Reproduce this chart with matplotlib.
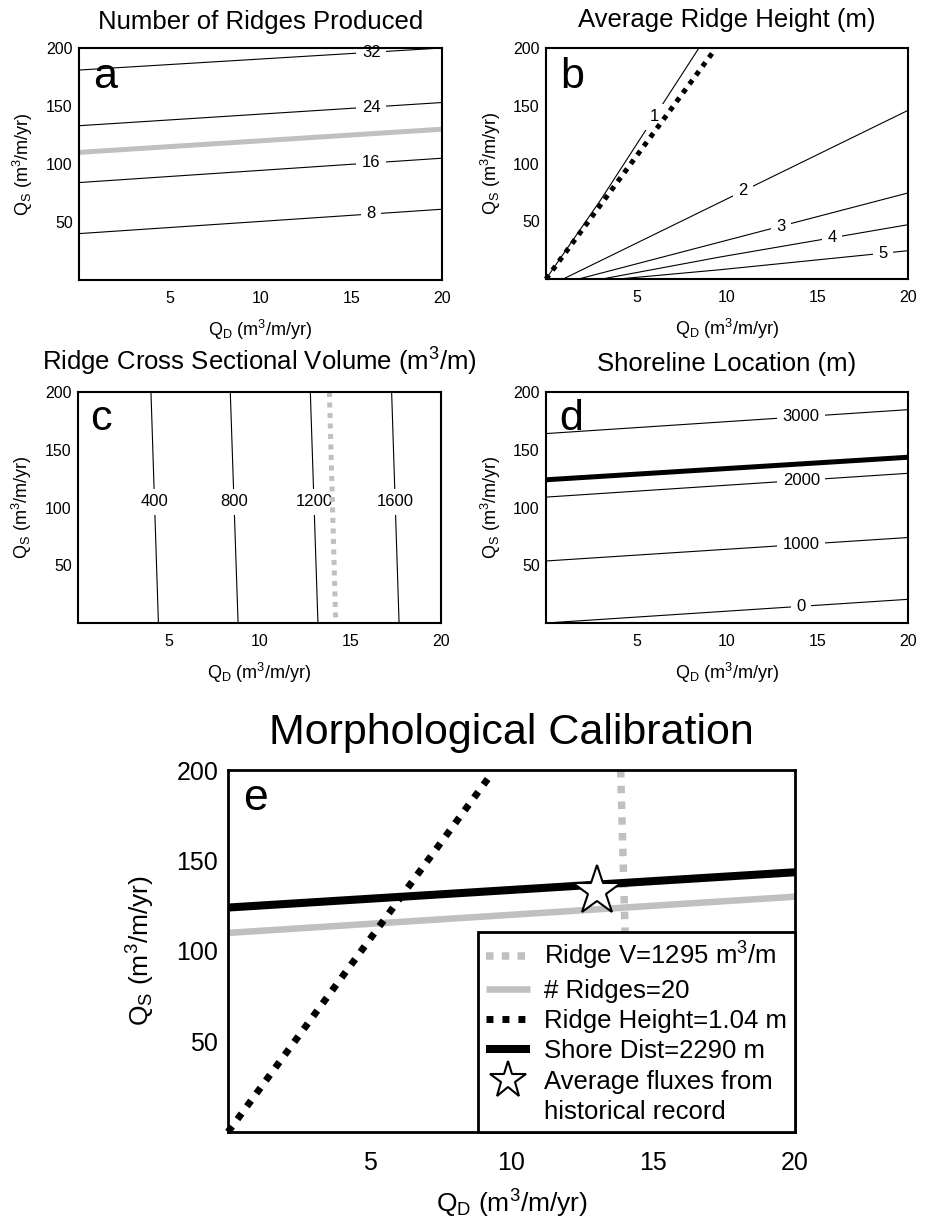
import numpy as np
import matplotlib
matplotlib.use("Agg")
import matplotlib.pyplot as plt
from matplotlib.lines import Line2D

plt.rcParams['font.family'] = ['Liberation Sans', 'DejaVu Sans']
plt.rcParams['mathtext.fontset'] = 'custom'
plt.rcParams['mathtext.rm'] = 'Liberation Sans'
plt.rcParams['mathtext.it'] = 'Liberation Sans:italic'
plt.rcParams['mathtext.bf'] = 'Liberation Sans:bold'

# ---------------- data ----------------
qd_span = [0, 20]

# (a) number of ridges: contours given by QS at QD=0 and QD=20
ridge_levels = ["8", "16", "24", "32"]
ridge_qs_left = [40, 84, 133, 181]
ridge_qs_right = [61, 105, 153, 200]
ridge_label_qd = 16.1
ridge_target_qs = [110, 130]          # 20 ridges

# (b) average ridge height
height_levels = ["1", "2", "3", "4", "5"]
height_qd = [[0, 3, 8.45], [0.95, 20], [1.8, 20], [3.1, 9.6, 20], [4.0, 9.6, 20]]
height_qs = [[0, 68, 200], [0, 146], [0, 74.5], [0, 19, 47], [0, 8, 24.5]]
height_label_qd = [6.0, 10.9, 13.0, 15.8, 18.6]
height_target_qd = [0, 9.3]             # 1.04 m
height_target_qs = [0, 198]

# (c) ridge cross-sectional volume: contours given by QD at QS=200 and QS=0
volume_levels = ["400", "800", "1200", "1600"]
volume_qd_top = [4.02, 8.39, 12.8, 17.28]
volume_qd_bottom = [4.43, 8.82, 13.22, 17.69]
volume_label_qs = 105
volume_target_qd = [13.85, 14.2]        # 1295 m3/m (top, bottom)
qs_span = [200, 0]

# (d) shoreline location
shore_levels = ["0", "1000", "2000", "3000"]
shore_qs_left = [0, 53.7, 109, 164]
shore_qs_right = [20.5, 74, 129.6, 184.7]
shore_label_qd = 14.1
shore_target_qs = [124, 143.5]          # 2290 m

# (e) historical average fluxes
star_qd = [13.0]
star_qs = [133]

xticks = [5, 10, 15, 20]
yticks = [50, 100, 150, 200]

GRAY = '#c0c0c0'
XLAB = r'Q$_\mathrm{D}$ (m$^3$/m/yr)'
YLAB = r'Q$_\mathrm{S}$ (m$^3$/m/yr)'

fig = plt.figure(figsize=(9.28, 12.24), dpi=100)
W, H = 928, 1224


def add_axes(l, r, t, b):
    return fig.add_axes([l / W, 1 - b / H, (r - l) / W, (b - t) / H])


def setup(ax, tfs, lfs, spw, xpad, ypad, xlab_y, ylab_x):
    ax.set_xlim(0, 20)
    ax.set_ylim(0, 200)
    ax.set_xticks(xticks)
    ax.set_yticks(yticks)
    ax.tick_params(axis='both', length=0, labelsize=tfs)
    ax.tick_params(axis='x', pad=xpad)
    ax.tick_params(axis='y', pad=ypad)
    for s in ax.spines.values():
        s.set_linewidth(spw)
        s.set_color('black')
    ax.set_xlabel(XLAB, fontsize=lfs)
    ax.set_ylabel(YLAB, fontsize=lfs)
    ax.xaxis.set_label_coords(0.5, xlab_y)
    ax.yaxis.set_label_coords(ylab_x, 0.5)


def clabel(ax, x, y, s, fs=12):
    ax.text(x, y, s, fontsize=fs, ha='center', va='center', zorder=2.2,
            bbox=dict(boxstyle='square,pad=0.33', fc='white', ec='none'))


THIN = 0.8
TFS, LFS, TITLE = 11.5, 13, 18.5

# ---------------- (a) ----------------
axa = add_axes(79, 442, 48, 280)
setup(axa, TFS, LFS, 1.5, 8, 4.5, -0.164, -0.12)
for lev, yl, yr in zip(ridge_levels, ridge_qs_left, ridge_qs_right):
    axa.plot(qd_span, [yl, yr], color='black', lw=THIN, zorder=2)
    clabel(axa, ridge_label_qd, np.interp(ridge_label_qd, qd_span, [yl, yr]), lev)
axa.plot(qd_span, ridge_target_qs, color=GRAY, lw=3.6, solid_capstyle='butt', zorder=2.4)
axa.set_title('Number of Ridges Produced', fontsize=TITLE, pad=14)
axa.text(0.04, 0.828, 'a', transform=axa.transAxes, fontsize=31, va='baseline', ha='left')

# ---------------- (b) ----------------
axb = add_axes(546, 908, 48, 279)
setup(axb, TFS, LFS, 1.5, 8, 4.5, -0.164, -0.12)
for lev, xs, ys, lx in zip(height_levels, height_qd, height_qs, height_label_qd):
    axb.plot(xs, ys, color='black', lw=THIN, zorder=2)
    clabel(axb, lx, np.interp(lx, xs, ys), lev)
axb.plot(height_target_qd, height_target_qs, color='black', lw=3.6,
         ls=(0, (1, 1.2)), dash_capstyle='butt', zorder=2.4, clip_on=False)
axb.set_title('Average Ridge Height (m)', fontsize=TITLE, pad=15)
axb.text(0.04, 0.828, 'b', transform=axb.transAxes, fontsize=31, va='baseline', ha='left')

# ---------------- (c) ----------------
axc = add_axes(78, 441, 392, 623)
setup(axc, TFS, LFS, 1.5, 8, 4.5, -0.164, -0.12)
for lev, xt, xb in zip(volume_levels, volume_qd_top, volume_qd_bottom):
    axc.plot([xt, xb], qs_span, color='black', lw=THIN, zorder=2)
    clabel(axc, np.interp(volume_label_qs, qs_span[::-1], [xb, xt]), volume_label_qs, lev)
axc.plot(volume_target_qd, qs_span, color=GRAY, lw=3.6, ls=(0, (1, 1.1)),
         dash_capstyle='butt', zorder=2.4)
axc.set_title(r'Ridge Cross Sectional Volume (m$^3$/m)', fontsize=TITLE, pad=15.5)
axc.text(0.033, 0.836, 'c', transform=axc.transAxes, fontsize=31, va='baseline', ha='left')

# ---------------- (d) ----------------
axd = add_axes(546, 908, 392, 623)
setup(axd, TFS, LFS, 1.5, 8, 4.5, -0.164, -0.12)
for lev, yl, yr in zip(shore_levels, shore_qs_left, shore_qs_right):
    axd.plot(qd_span, [yl, yr], color='black', lw=THIN, zorder=2)
    clabel(axd, shore_label_qd, np.interp(shore_label_qd, qd_span, [yl, yr]), lev)
axd.plot(qd_span, shore_target_qs, color='black', lw=3.6, solid_capstyle='butt', zorder=2.4)
axd.set_title('Shoreline Location (m)', fontsize=TITLE, pad=15)
axd.text(0.036, 0.836, 'd', transform=axd.transAxes, fontsize=31, va='baseline', ha='left')

# ---------------- (e) ----------------
axe = add_axes(228, 795, 770, 1132)
setup(axe, 18, 19, 2.0, 14, 7, -0.155, -0.125)
lv, = axe.plot(volume_target_qd, qs_span, color=GRAY, lw=5.4, ls=(0, (1, 1.1)),
               dash_capstyle='butt', zorder=2.3, label=r'Ridge V=1295 m$^3$/m')
lr, = axe.plot(qd_span, ridge_target_qs, color=GRAY, lw=4.7, solid_capstyle='butt',
               zorder=2.3, label='# Ridges=20')
lh, = axe.plot(height_target_qd, height_target_qs, color='black', lw=5.0,
               ls=(0, (1, 1.3)), dash_capstyle='butt', zorder=2.4, clip_on=False,
               label='Ridge Height=1.04 m')
ls_, = axe.plot(qd_span, shore_target_qs, color='black', lw=5.8, solid_capstyle='butt',
                zorder=2.4, label='Shore Dist=2290 m')
st, = axe.plot(star_qd, star_qs, ls='none', marker='*', ms=37, mfc='white',
               mec='black', mew=1.5, zorder=4, label='Average fluxes from')
blank = Line2D([], [], ls='none', marker=None, label='historical record')
leg = axe.legend(handles=[lv, lr, lh, ls_, st, blank], loc='lower right',
                 fontsize=18.5, frameon=True, fancybox=False, framealpha=1,
                 edgecolor='black', borderaxespad=0, borderpad=0.3,
                 labelspacing=0.25, handlelength=1.72, handletextpad=0.56,
                 markerscale=0.75)
leg.get_frame().set_linewidth(2.0)
axe.set_title('Morphological Calibration', fontsize=31, pad=19)
axe.text(0.026, 0.89, 'e', transform=axe.transAxes, fontsize=32, va='baseline', ha='left')

fig.savefig('out.png', dpi=100)
